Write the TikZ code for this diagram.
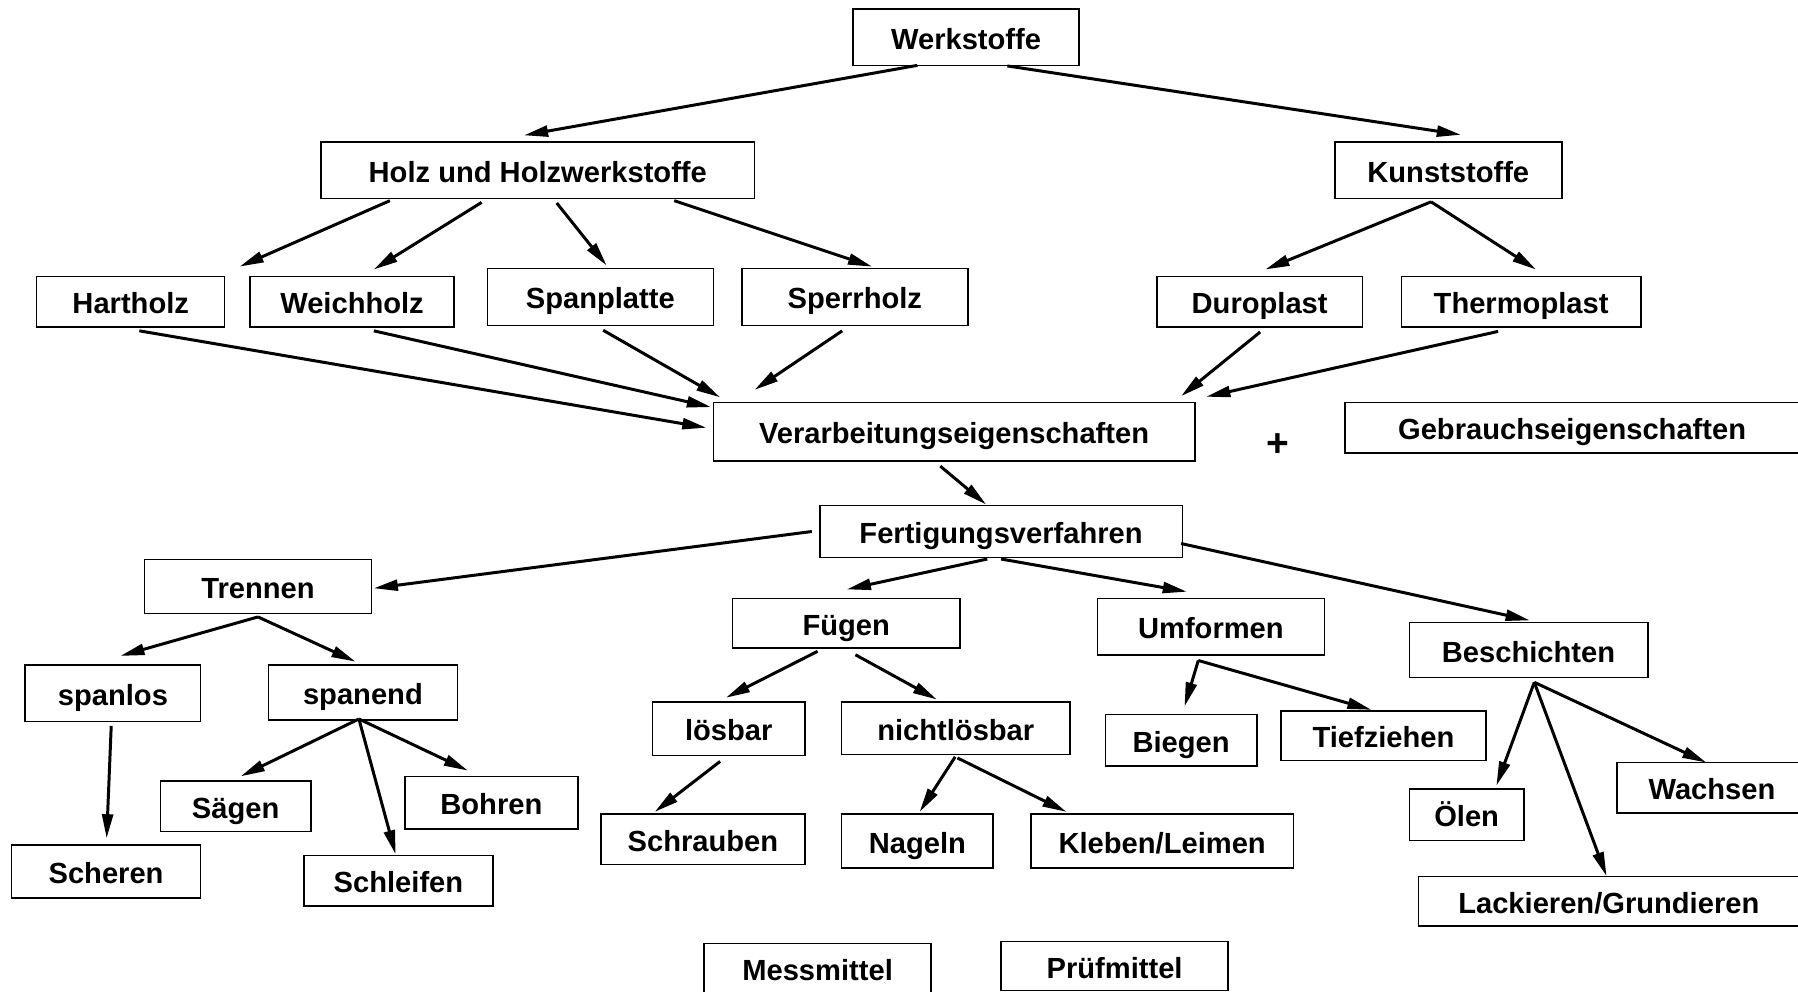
\documentclass[tikz,border=0pt]{standalone}
\usepackage{fontspec}
\setmainfont{Liberation Sans}
\usetikzlibrary{arrows.meta,calc}
\newcommand{\conn}[4]{\draw[arr] ($(#1)+(#2)$) -- ($(#3)+(#4)$);}
\begin{document}
\begin{tikzpicture}[x=1pt,y=-1pt,
  box/.style={draw, line width=1.3pt, inner sep=0pt, fill=white,
    text height=20.8pt, text depth=0pt,
    font=\fontsize{25.4}{30}\selectfont\bfseries},
  arr/.style={line width=2.6pt, -{Triangle[length=21pt,width=9.5pt]}}]
\useasboundingbox (0,0) rectangle (1568,865);
% nodes
\node[box, minimum width=197pt, minimum height=49pt] (werk) at (842.5,32.5) {Werkstoffe};
\node[box, minimum width=378pt, minimum height=49pt] (holz) at (469,148.5) {Holz und Holzwerkstoffe};
\node[box, minimum width=198pt, minimum height=49pt] (kunst) at (1263,148.5) {Kunststoffe};
\node[box, minimum width=164pt, minimum height=44pt] (hart) at (114,263) {Hartholz};
\node[box, minimum width=178pt, minimum height=44pt] (weich) at (307,263) {Weichholz};
\node[box, minimum width=197pt, minimum height=50pt] (span) at (523.5,259) {Spanplatte};
\node[box, minimum width=197pt, minimum height=50pt] (sperr) at (745.5,259) {Sperrholz};
\node[box, minimum width=179pt, minimum height=44pt] (duro) at (1098.5,263) {Duroplast};
\node[box, minimum width=209pt, minimum height=44pt] (thermo) at (1326.5,263) {Thermoplast};
\node[box, minimum width=420pt, minimum height=51pt] (verarb) at (832,376.5) {Verarbeitungseigenschaften};
\node[font=\fontsize{34}{36}\selectfont\bfseries, inner sep=0pt] (plus) at (1114,388) {+};
\node[box, minimum width=396pt, minimum height=44pt] (gebr) at (1371,373) {Gebrauchseigenschaften};
\node[box, minimum width=316pt, minimum height=45pt] (fert) at (873,463.5) {Fertigungsverfahren};
\node[box, minimum width=198pt, minimum height=47pt] (trenn) at (225,511.5) {Trennen};
\node[box, minimum width=198pt, minimum height=43pt] (fueg) at (738,543.5) {Fügen};
\node[box, minimum width=198pt, minimum height=49pt] (umf) at (1056,546.5) {Umformen};
\node[box, minimum width=208pt, minimum height=48pt] (besch) at (1333,567) {Beschichten};
\node[box, minimum width=153pt, minimum height=49pt] (spanlos) at (98.5,604.5) {spanlos};
\node[box, minimum width=165pt, minimum height=48pt] (spanend) at (316.5,604) {spanend};
\node[box, minimum width=133pt, minimum height=47pt] (loes) at (635.5,635.5) {lösbar};
\node[box, minimum width=199pt, minimum height=46pt] (nicht) at (833.5,635) {nichtlösbar};
\node[box, minimum width=132pt, minimum height=45pt] (bieg) at (1030,645.5) {Biegen};
\node[box, minimum width=179pt, minimum height=43pt] (tief) at (1206.5,641.5) {Tiefziehen};
\node[box, minimum width=100pt, minimum height=45pt] (oel) at (1279,710.5) {Ölen};
\node[box, minimum width=166pt, minimum height=44pt] (wachs) at (1493,687) {Wachsen};
\node[box, minimum width=131pt, minimum height=44pt] (saeg) at (205.5,703) {Sägen};
\node[box, minimum width=151pt, minimum height=46pt] (bohr) at (428.5,700) {Bohren};
\node[box, minimum width=165pt, minimum height=46pt] (scher) at (92.5,760) {Scheren};
\node[box, minimum width=165pt, minimum height=44pt] (schleif) at (347.5,768) {Schleifen};
\node[box, minimum width=178pt, minimum height=44pt] (schraub) at (613,732) {Schrauben};
\node[box, minimum width=132pt, minimum height=47pt] (nagel) at (800,733.5) {Nageln};
\node[box, minimum width=229pt, minimum height=47pt] (kleb) at (1013.5,733.5) {Kleben/Leimen};
\node[box, minimum width=332pt, minimum height=43pt] (lack) at (1403,786) {Lackieren/Grundieren};
\node[box, minimum width=198pt, minimum height=44pt] (mess) at (713,845) {Messmittel};
\node[box, minimum width=198pt, minimum height=43pt] (pruef) at (972,842.5) {Prüfmittel};
% connectors
\conn{werk}{-42.5,24.5}{holz}{-12,-30.5}
\conn{werk}{36,25}{kunst}{11,-31}
\conn{holz}{-129,26.5}{hart}{95,-30.5}
\conn{holz}{-49,28}{weich}{19,-28}
\conn{holz}{16.5,28.5}{span}{5.5,-27.5}
\conn{holz}{119,26.5}{sperr}{15,-26.5}
\conn{kunst}{-15,27.5}{duro}{5,-28}
\conn{kunst}{-15,27.5}{thermo}{13,-28}
\conn{hart}{7.5,25.5}{verarb}{-216,-3.5}
\conn{weich}{19,25.5}{verarb}{-212,-21.5}
\conn{span}{2.5,29}{verarb}{-204,-30}
\conn{sperr}{-11,29.5}{verarb}{-174,-36.5}
\conn{duro}{0.5,26.5}{verarb}{198,-31}
\conn{thermo}{-20,26}{verarb}{220,-30.5}
\conn{verarb}{-12,30}{fert}{-13,-23.5}
\conn{fert}{-165,0}{trenn}{101,1.5}
\conn{fert}{-12,24}{fueg}{0.5,-29.5}
\conn{fert}{0,24}{umf}{-21,-30.5}
\conn{fert}{157,10.5}{besch}{1,-26}
\conn{trenn}{0,26.5}{spanlos}{6.5,-32.5}
\conn{trenn}{0,26.5}{spanend}{-6.5,-27}
\conn{spanlos}{-1.5,28.5}{scher}{0.5,-29}
\conn{spanend}{-3.5,23}{saeg}{4.5,-26}
\conn{spanend}{-3.5,23}{schleif}{-2.5,-23}
\conn{spanend}{-3.5,23}{bohr}{-20.5,-28}
\conn{fueg}{-25,24.5}{loes}{-2.5,-27}
\conn{fueg}{8,27.5}{nicht}{-16.5,-25}
\conn{loes}{-7.5,28.5}{schraub}{-42,-24}
\conn{nicht}{-0.5,25}{nagel}{2,-25.5}
\conn{nicht}{1.5,26}{kleb}{-83.5,-25.5}
\conn{umf}{-11,29.5}{bieg}{3,-29.5}
\conn{umf}{-11,29.5}{tief}{-10.5,-22.5}
\conn{besch}{5,28}{oel}{26,-25.5}
\conn{besch}{5,28}{lack}{-2,-22}
\conn{besch}{5,28}{wachs}{-5,-22}
\end{tikzpicture}
\end{document}
